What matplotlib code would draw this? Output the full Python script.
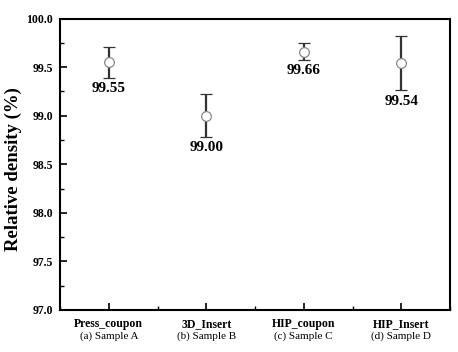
import numpy as np
import matplotlib.pyplot as plt
import matplotlib.transforms as mtransforms
from matplotlib.ticker import MultipleLocator

# data
samples = ['Press_coupon', '3D_Insert', 'HIP_coupon', 'HIP_Insert']
sub_labels = ['(a) Sample A', '(b) Sample B', '(c) Sample C', '(d) Sample D']
density = [99.55, 99.00, 99.66, 99.54]
err = [0.16, 0.22, 0.09, 0.28]

plt.rcParams['font.family'] = ['Liberation Serif', 'DejaVu Serif']

fig = plt.figure(figsize=(4.58, 3.52), dpi=100)
ax = fig.add_axes([60 / 458, 1 - 310 / 352, 390 / 458, 291.5 / 352])

x = np.arange(1, len(samples) + 1)
ax.errorbar(x, density, yerr=err, fmt='o', color='#333333', ecolor='#333333',
            elinewidth=1.6, capsize=4, capthick=1.6,
            markerfacecolor='white', markeredgecolor='#888888',
            markersize=7, markeredgewidth=0.9, zorder=3)

for xi, d, e in zip(x, density, err):
    ax.annotate(f'{d:.2f}', (xi, d - e), xytext=(0, -3), textcoords='offset points',
                ha='center', va='top', fontsize=11, fontweight='bold')

ax.set_xlim(0.5, 4.5)
ax.set_ylim(97.0, 100.0)
ax.set_xticks(x)
ax.set_xticklabels(samples, fontsize=8.5, fontweight='bold')
ax.xaxis.set_minor_locator(MultipleLocator(0.5))
ax.yaxis.set_minor_locator(MultipleLocator(0.25))
yt = np.arange(97.0, 100.01, 0.5)
ax.set_yticks(yt)
ax.set_yticklabels([f'{v:.1f}' for v in yt], fontsize=8.5, fontweight='bold')
ax.tick_params(which='major', direction='in', length=5, width=1.2, pad=5)
ax.tick_params(which='minor', direction='in', length=3, width=1.0)
ax.tick_params(axis='x', which='major', pad=5.5)

trans = mtransforms.blended_transform_factory(ax.transData, ax.transAxes)
for xi, s in zip(x, sub_labels):
    ax.text(xi, -0.073, s, transform=trans, ha='center', va='top', fontsize=8)

for sp in ax.spines.values():
    sp.set_linewidth(1.5)

ax.set_ylabel('Relative density (%)', fontsize=13.5, fontweight='bold')
ax.yaxis.set_label_coords(-0.097, 0.485)

fig.savefig('out.png', dpi=100)
